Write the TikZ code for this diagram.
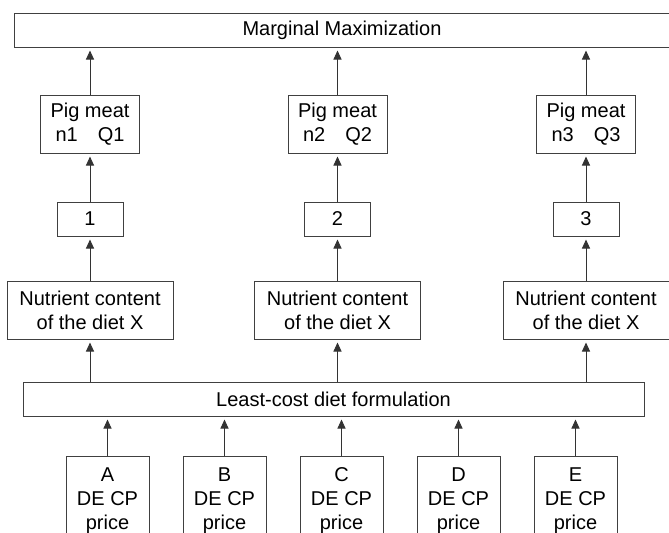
\documentclass[tikz,border=0pt]{standalone}
\usepackage{fontspec}
\setmainfont{Liberation Sans}
\usepackage{tikz}
\usetikzlibrary{positioning,arrows.meta}

\begin{document}
\begin{tikzpicture}[node distance={24pt},
    font=\fontsize{10}{12}\selectfont,
    main/.style = {draw=black!75, line width=0.5pt, rectangle, align=center, inner sep=0pt},
    wide/.style = {main, minimum width=#1, minimum height=17pt},
    pig/.style = {main, minimum width=49.5pt, minimum height=29pt},
    num/.style = {main, minimum width=33pt, minimum height=17pt},
    nut/.style = {main, minimum width=83pt, minimum height=29pt},
    feed/.style = {main, minimum width=41.5pt, minimum height=45pt},
    up/.style = {draw=black!80, line width=0.5pt, -{Triangle[length=4.5pt,width=4pt]}, shorten >=1.5pt}]
    \useasboundingbox (0,0) rectangle (334.5pt,-266pt);
            \node[wide=328pt] (top) at (171pt,-15pt) {Marginal Maximization};
            \node[pig] (pig1) at (45pt,-62pt) {Pig meat\\n1\quad Q1};
            \node[pig] (pig2) at (168.75pt,-62pt) {Pig meat\\n2\quad Q2};
            \node[pig] (pig3) at (293pt,-62pt) {Pig meat\\n3\quad Q3};
            \node[num] (n1) [below=of pig1] {1};
            \node[num] (n2) [below=of pig2] {2};
            \node[num] (n3) [below=of pig3] {3};
            \node[nut] (x1) [below=22pt of n1] {Nutrient content\\of the diet X};
            \node[nut] (x2) [below=22pt of n2] {Nutrient content\\of the diet X};
            \node[nut] (x3) [below=22pt of n3] {Nutrient content\\of the diet X};
            \node[wide=310.5pt] (lcf) at (166.75pt,-199.5pt) {Least-cost diet formulation};
            \node[feed] (a) at (53.75pt,-250.5pt) {A\\DE CP\\price};
            \node[feed] (b) [right=16.5pt of a] {B\\DE CP\\price};
            \node[feed] (c) [right=16.5pt of b] {C\\DE CP\\price};
            \node[feed] (d) [right=16.5pt of c] {D\\DE CP\\price};
            \node[feed] (e) [right=16.5pt of d] {E\\DE CP\\price};
            \draw[up] (pig1.north) -- (pig1.north |- top.south);
            \draw[up] (pig2.north) -- (pig2.north |- top.south);
            \draw[up] (pig3.north) -- (pig3.north |- top.south);
            \draw[up] (n1) -- (pig1);
            \draw[up] (n2) -- (pig2);
            \draw[up] (n3) -- (pig3);
            \draw[up] (x1) -- (n1);
            \draw[up] (x2) -- (n2);
            \draw[up] (x3) -- (n3);
            \draw[up] (x1.south |- lcf.north) -- (x1.south);
            \draw[up] (x2.south |- lcf.north) -- (x2.south);
            \draw[up] (x3.south |- lcf.north) -- (x3.south);
            \draw[up] (a.north) -- (a.north |- lcf.south);
            \draw[up] (b.north) -- (b.north |- lcf.south);
            \draw[up] (c.north) -- (c.north |- lcf.south);
            \draw[up] (d.north) -- (d.north |- lcf.south);
            \draw[up] (e.north) -- (e.north |- lcf.south);
        \end{tikzpicture}
\end{document}
